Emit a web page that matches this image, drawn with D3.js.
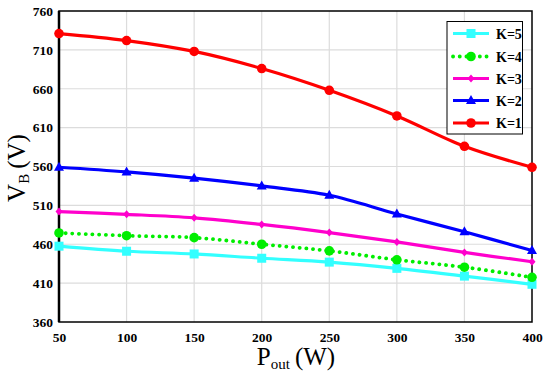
<!DOCTYPE html>
<html><head><meta charset="utf-8">
<script src="https://cdn.jsdelivr.net/npm/d3@7"></script>
<style>body{margin:0;background:#fff}svg{display:block}</style>
</head><body>
<svg id="c" width="550" height="373"></svg>
<script>
const power = [50,100,150,200,250,300,350,400];
const k1 = [731,722,708,686,658,625,586,559];
const k2 = [559,553,545,535,523,499,476,452];
const k3 = [502,498.5,494,485.5,475,463,449.5,437.5];
const k4 = [474.5,471,468.5,460,451.5,440,430.5,417.5];
const k5 = [457.5,451,447.5,442,437,429,419,408.5];
const yTicks = [360,410,460,510,560,610,660,710,760];
const xTicks = [50,100,150,200,250,300,350,400];
const seriesNames = ["K=5","K=4","K=3","K=2","K=1"];

const series = [
  {values:k5, color:"#33ffff", marker:"square", dash:null},
  {values:k4, color:"#00ee00", marker:"circle", dash:"0.1,6.6"},
  {values:k3, color:"#ff00cc", marker:"diamond", dash:null},
  {values:k2, color:"#0000ff", marker:"triangle", dash:null},
  {values:k1, color:"#ff0000", marker:"circle", dash:null}
];
const FONT = "'Liberation Serif'";

const svg = d3.select("#c");
const L=59, R=532, T=11, B=322;
const x = d3.scaleLinear().domain([50,400]).range([L,R]);
const y = d3.scaleLinear().domain([360,760]).range([B,T]);

svg.append("g").selectAll("line").data(xTicks.slice(1,-1)).join("line")
  .attr("x1",d=>x(d)).attr("x2",d=>x(d)).attr("y1",T).attr("y2",B)
  .attr("stroke","#dcdcdc").attr("stroke-width",1.2);
svg.append("g").selectAll("line").data(yTicks.slice(1,-1)).join("line")
  .attr("x1",L).attr("x2",R).attr("y1",d=>y(d)).attr("y2",d=>y(d))
  .attr("stroke","#dcdcdc").attr("stroke-width",1.2);

svg.append("rect").attr("x",L).attr("y",T).attr("width",R-L).attr("height",B-T)
  .attr("fill","none").attr("stroke","#000").attr("stroke-width",1.5);
svg.append("line").attr("x1",L).attr("x2",L).attr("y1",T).attr("y2",B)
  .attr("stroke","#000").attr("stroke-width",2.5);

const yAxis = d3.axisLeft(y).tickValues(yTicks).tickSize(0).tickPadding(6);
const gy = svg.append("g").attr("transform",`translate(${L},0)`).call(yAxis);
gy.attr("font-family",null).attr("font-size",null);
gy.select(".domain").remove();
gy.selectAll("text").style("font-family",FONT).style("font-weight","bold").style("font-size","13.5px").attr("fill","#000");
const xAxis = d3.axisBottom(x).tickValues(xTicks).tickSize(0).tickPadding(10);
const gx = svg.append("g").attr("transform",`translate(0,${B})`).call(xAxis);
gx.attr("font-family",null).attr("font-size",null);
gx.select(".domain").remove();
gx.selectAll("text").style("font-family",FONT).style("font-weight","bold").style("font-size","13.5px").attr("fill","#000");

const yl = svg.append("text").attr("transform","translate(25,168) rotate(-90)")
  .attr("text-anchor","middle").style("font-family",FONT).style("font-size","25px");
yl.append("tspan").text("V");
yl.append("tspan").style("font-size","15px").attr("dy",4).text("B");
yl.append("tspan").attr("dy",-4).text("\u2009(V)");
const xl = svg.append("text").attr("x",296).attr("y",365)
  .attr("text-anchor","middle").style("font-family",FONT).style("font-size","25px");
xl.append("tspan").text("P");
xl.append("tspan").style("font-size","15px").attr("dy",4).text("out");
xl.append("tspan").attr("dy",-4).text("\u2009(W)");

function drawMarker(g, type, cx, cy, color){
  if(type==="square") g.append("rect").attr("x",cx-4.5).attr("y",cy-4.5).attr("width",9).attr("height",9).attr("fill",color);
  else if(type==="circle") g.append("circle").attr("cx",cx).attr("cy",cy).attr("r",4.8).attr("fill",color);
  else if(type==="diamond") g.append("path").attr("d",`M${cx},${cy-4}L${cx+3.5},${cy}L${cx},${cy+4}L${cx-3.5},${cy}Z`).attr("fill",color);
  else if(type==="triangle") g.append("path").attr("d",`M${cx},${cy-5.5}L${cx+5},${cy+3.5}L${cx-5},${cy+3.5}Z`).attr("fill",color);
}

const line = d3.line().x(d=>x(d[0])).y(d=>y(d[1])).curve(d3.curveCatmullRom.alpha(0.5));
series.forEach(s=>{
  const pts = power.map((p,i)=>[p,s.values[i]]);
  const g = svg.append("g");
  g.append("path").datum(pts).attr("d",line).attr("fill","none").attr("stroke",s.color)
    .attr("stroke-width",s.dash?3.8:3.2).attr("stroke-dasharray",s.dash).attr("stroke-linecap",s.dash?"round":"butt");
  pts.forEach(p=>drawMarker(g,s.marker,x(p[0]),y(p[1]),s.color));
});

const lg = svg.append("g");
lg.append("rect").attr("x",447).attr("y",21.5).attr("width",75.5).attr("height",112.5)
  .attr("fill","#fff").attr("stroke","#000").attr("stroke-width",1);
const ly = [33.5,56.5,78.5,100.5,123];
series.forEach((s,i)=>{
  const yy = ly[i];
  lg.append("line").attr("x1",453).attr("x2",489).attr("y1",yy).attr("y2",yy)
    .attr("stroke",s.color).attr("stroke-width",s.dash?3.8:3.2).attr("stroke-dasharray",s.dash).attr("stroke-linecap",s.dash?"round":"butt");
  drawMarker(lg,s.marker,471,yy,s.color);
  lg.append("text").attr("x",496).attr("y",yy+5).style("font-family",FONT)
    .style("font-weight","bold").style("font-size","14px").text(seriesNames[i]);
});
</script>
</body></html>
